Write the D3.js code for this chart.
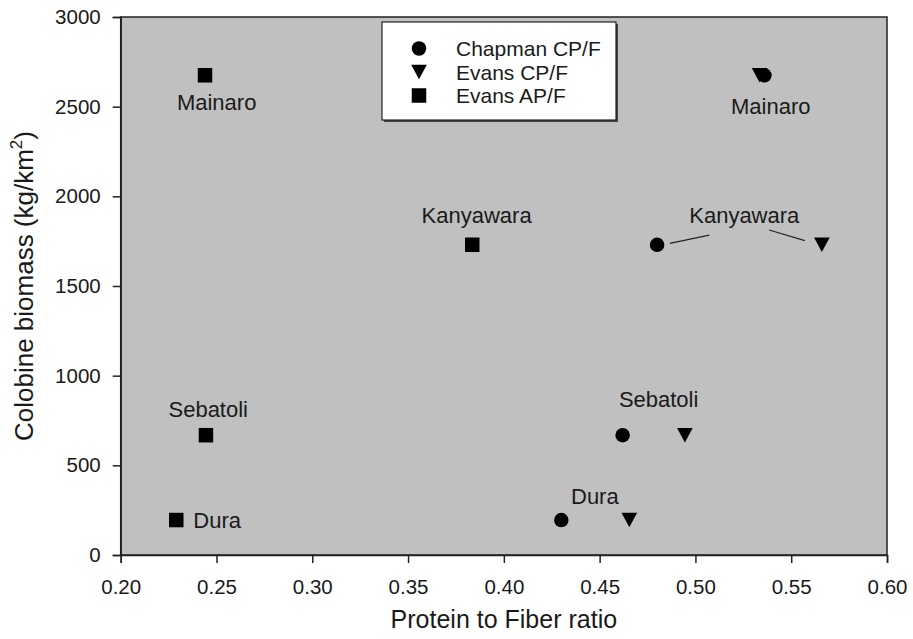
<!DOCTYPE html>
<html>
<head>
<meta charset="utf-8">
<script src="https://cdn.jsdelivr.net/npm/d3@7"></script>
<style>
  body { margin: 0; background: #fff; }
  svg text { font-family: "Liberation Sans", Arial, sans-serif; fill: #1a1a1a; }
</style>
</head>
<body>
<svg id="chart"></svg>
<script>
// sites and values
const sites = ["Mainaro", "Kanyawara", "Sebatoli", "Dura"];
const biomass = [2675, 1730, 668, 195];
const chapmanCPF = [0.536, 0.480, 0.462, 0.430];
const evansCPF = [0.5335, 0.566, 0.4945, 0.4655];
const evansAPF = [0.244, 0.3835, 0.2445, 0.229];

const seriesNames = ["Chapman CP/F", "Evans CP/F", "Evans AP/F"];
const seriesSymbols = [d3.symbolCircle, "triangle", d3.symbolSquare];

const xTicks = [0.20, 0.25, 0.30, 0.35, 0.40, 0.45, 0.50, 0.55, 0.60];
const yTicks = [0, 500, 1000, 1500, 2000, 2500, 3000];

// site labels, in data units
const labels = [
  { text: "Mainaro", x: 0.2501, y: 2481, anchor: "middle" },
  { text: "Kanyawara", x: 0.3858, y: 1851, anchor: "middle" },
  { text: "Sebatoli", x: 0.2457, y: 771, anchor: "middle" },
  { text: "Dura", x: 0.2379, y: 152, anchor: "start" },
  { text: "Mainaro", x: 0.5393, y: 2459, anchor: "middle" },
  { text: "Kanyawara", x: 0.5255, y: 1850, anchor: "middle" },
  { text: "Sebatoli", x: 0.4808, y: 824, anchor: "middle" },
  { text: "Dura", x: 0.4475, y: 284, anchor: "middle" }
];
const leaders = [
  [[0.4867, 1738], [0.5072, 1784]],
  [[0.5385, 1812], [0.5571, 1753]]
];

const width = 913, height = 639;
const margin = { top: 17, right: 26, bottom: 84, left: 120.7 };

const svg = d3.select("#chart").attr("width", width).attr("height", height);

const x = d3.scaleLinear().domain([0.2, 0.6]).range([margin.left, width - margin.right]);
const y = d3.scaleLinear().domain([0, 3000]).range([height - margin.bottom, margin.top]);

// plot background
svg.append("rect")
  .attr("x", x(0.2)).attr("y", y(3000))
  .attr("width", x(0.6) - x(0.2)).attr("height", y(0) - y(3000))
  .attr("fill", "#c0c0c0")
  .attr("stroke", "#222").attr("stroke-width", 1.5);

const xAxis = svg.append("g")
  .attr("transform", `translate(0,${y(0)})`)
  .call(d3.axisBottom(x).tickValues(xTicks).tickFormat(d3.format(".2f")).tickSize(8).tickPadding(16));
const yAxis = svg.append("g")
  .attr("transform", `translate(${x(0.2)},0)`)
  .call(d3.axisLeft(y).tickValues(yTicks).tickFormat(d3.format("d")).tickSize(8).tickPadding(12));

[xAxis, yAxis].forEach(ax => {
  ax.select(".domain").attr("stroke", "#222").attr("stroke-width", 1.5);
  ax.selectAll(".tick line").attr("stroke", "#222").attr("stroke-width", 1.5);
  ax.selectAll(".tick text").attr("font-size", 20.5).attr("fill", "#1a1a1a")
    .style("font-family", '"Liberation Sans", Arial, sans-serif');
});

// axis titles
svg.append("text")
  .attr("x", (x(0.2) + x(0.6)) / 2).attr("y", 628)
  .attr("text-anchor", "middle").attr("font-size", 25)
  .text("Protein to Fiber ratio");

const yt = svg.append("text")
  .attr("transform", `translate(33,${(y(0) + y(3000)) / 2}) rotate(-90)`)
  .attr("text-anchor", "middle").attr("font-size", 26);
yt.append("tspan").text("Colobine biomass (kg/km");
yt.append("tspan").attr("font-size", 17).attr("dy", -11).text("2");
yt.append("tspan").attr("dy", 11).text(")");

// symbol paths
const markSize = 14.5;
function symbolPath(sym, s) {
  if (sym === "triangle") {
    const w = s * 1.08, h = s;
    return `M${-w / 2},${-h / 2}L${w / 2},${-h / 2}L0,${h / 2}Z`;
  }
  if (sym === d3.symbolCircle) return d3.symbol(sym, Math.PI * (s / 2) * (s / 2))();
  return d3.symbol(sym, s * s)();
}

const seriesValues = [chapmanCPF, evansCPF, evansAPF];
const points = [];
seriesValues.forEach((vals, si) => {
  vals.forEach((v, i) => points.push({ series: si, site: sites[i], x: v, y: biomass[i] }));
});

// leader lines
svg.append("g").selectAll("line").data(leaders).join("line")
  .attr("x1", d => x(d[0][0])).attr("y1", d => y(d[0][1]))
  .attr("x2", d => x(d[1][0])).attr("y2", d => y(d[1][1]))
  .attr("stroke", "#222").attr("stroke-width", 1.2);

// draw evans CP/F first so chapman circle overlaps at Mainaro
const order = [1, 2, 0];
svg.append("g").selectAll("path")
  .data(points.slice().sort((a, b) => order.indexOf(a.series) - order.indexOf(b.series)))
  .join("path")
  .attr("transform", d => `translate(${x(d.x)},${y(d.y)})`)
  .attr("d", d => symbolPath(seriesSymbols[d.series], markSize))
  .attr("fill", "#000");

svg.append("g").selectAll("text").data(labels).join("text")
  .attr("x", d => x(d.x)).attr("y", d => y(d.y))
  .attr("text-anchor", d => d.anchor)
  .attr("font-size", 22)
  .text(d => d.text);

// legend
const lg = svg.append("g").attr("transform", "translate(382,22)");
lg.append("rect").attr("x", 2).attr("y", 2).attr("width", 234).attr("height", 98).attr("fill", "#444");
lg.append("rect").attr("width", 234).attr("height", 98).attr("fill", "#fff")
  .attr("stroke", "#222").attr("stroke-width", 1.2);
const rows = lg.selectAll("g.row").data(seriesNames).join("g")
  .attr("class", "row")
  .attr("transform", (d, i) => `translate(37,${26.5 + i * 23.5})`);
rows.append("path")
  .attr("d", (d, i) => symbolPath(seriesSymbols[i], markSize))
  .attr("fill", "#000");
rows.append("text")
  .attr("x", 37).attr("dy", "0.36em")
  .attr("font-size", 21)
  .text(d => d);
</script>
</body>
</html>
